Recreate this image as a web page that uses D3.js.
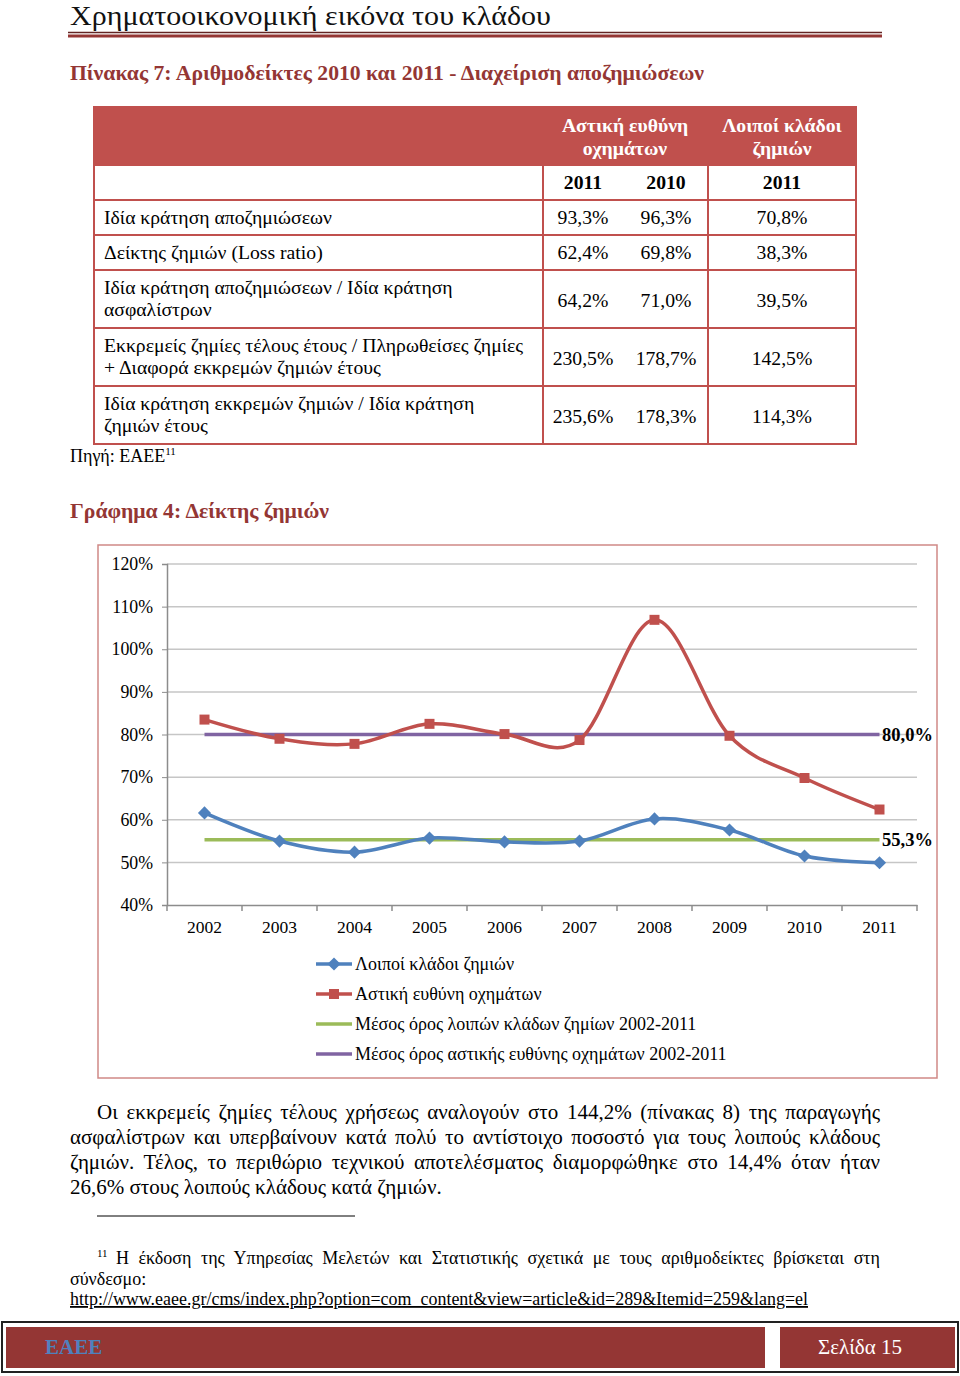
<!DOCTYPE html>
<html><head><meta charset="utf-8">
<script src="https://cdn.jsdelivr.net/npm/d3@7"></script>
<style>
body{margin:0;background:#fff;}
svg{display:block;}
text{font-family:"Liberation Serif","Times New Roman",serif;}
</style></head>
<body>
<svg id="page" width="960" height="1376"></svg>
<script>
// ---------- DATA ----------
const years = ["2002","2003","2004","2005","2006","2007","2008","2009","2010","2011"];
const loipoiValues = [61.6, 55.0, 52.4, 55.7, 54.8, 55.0, 60.2, 57.6, 51.5, 49.9];
const astikiValues = [83.5, 79.0, 77.8, 82.5, 80.1, 78.7, 106.9, 79.7, 69.8, 62.4];
const avgLoipoi = 55.3;
const avgAstiki = 80.0;
const yTicks = [40, 50, 60, 70, 80, 90, 100, 110, 120];
const seriesNames = ["Λοιποί κλάδοι ζημιών", "Αστική ευθύνη οχημάτων",
  "Μέσος όρος λοιπών κλάδων ζημίων 2002-2011", "Μέσος όρος αστικής ευθύνης οχημάτων 2002-2011"];

const tableHeaderGroups = [["Αστική ευθύνη","οχημάτων"],["Λοιποί κλάδοι","ζημιών"]];
const tableYears = ["2011","2010","2011"];
const tableRowLabels = [
  ["Ιδία κράτηση αποζημιώσεων"],
  ["Δείκτης ζημιών (Loss ratio)"],
  ["Ιδία κράτηση αποζημιώσεων / Ιδία κράτηση","ασφαλίστρων"],
  ["Εκκρεμείς ζημίες τέλους έτους / Πληρωθείσες ζημίες","+ Διαφορά εκκρεμών ζημιών έτους"],
  ["Ιδία κράτηση εκκρεμών ζημιών / Ιδία κράτηση","ζημιών έτους"]
];
const tableValues = [
  ["93,3%","96,3%","70,8%"],
  ["62,4%","69,8%","38,3%"],
  ["64,2%","71,0%","39,5%"],
  ["230,5%","178,7%","142,5%"],
  ["235,6%","178,3%","114,3%"]
];
const paragraphLines = [
  "Οι εκκρεμείς ζημίες τέλους χρήσεως αναλογούν στο 144,2% (πίνακας 8) της παραγωγής",
  "ασφαλίστρων και υπερβαίνουν κατά πολύ το αντίστοιχο ποσοστό για τους λοιπούς κλάδους",
  "ζημιών. Τέλος, το περιθώριο τεχνικού αποτελέσματος διαμορφώθηκε στο 14,4% όταν ήταν",
  "26,6% στους λοιπούς κλάδους κατά ζημιών."
];

// ---------- PAGE ----------
const svg = d3.select("#page");
const dark = "#943634", red = "#c0504d", blue = "#4f81bd", green = "#9bbb59", purple = "#8064a2";

// header
svg.append("text").attr("x",70).attr("y",25).attr("font-size",28).attr("fill","#111")
  .attr("textLength",481).attr("lengthAdjust","spacingAndGlyphs")
  .text("Χρηματοοικονομική εικόνα του κλάδου");
svg.append("line").attr("x1",68).attr("x2",882).attr("y1",32.5).attr("y2",32.5).attr("stroke","#632423").attr("stroke-width",1.5);
svg.append("line").attr("x1",68).attr("x2",882).attr("y1",36).attr("y2",36).attr("stroke",dark).attr("stroke-width",3);

svg.append("text").attr("x",70).attr("y",80).attr("font-size",20).attr("font-weight","bold").attr("fill",dark)
  .attr("textLength",634).attr("lengthAdjust","spacingAndGlyphs")
  .text("Πίνακας 7: Αριθμοδείκτες 2010 και 2011 - Διαχείριση αποζημιώσεων");

// ---------- TABLE ----------
const T = {x0:94, x1:856, c1:543, c2:708};
const rowEdges = [107,165,200,235,270,328,386,444];
const colCenters = [583,666,782];
const FS = 19.7;
const tg = svg.append("g");
tg.append("rect").attr("x",T.x0).attr("y",rowEdges[0]).attr("width",T.x1-T.x0).attr("height",rowEdges[1]-rowEdges[0]).attr("fill",red);
tg.append("rect").attr("x",T.x0).attr("y",rowEdges[0]).attr("width",T.x1-T.x0).attr("height",rowEdges[7]-rowEdges[0])
  .attr("fill","none").attr("stroke",red).attr("stroke-width",2);
rowEdges.slice(1,7).forEach(y=>tg.append("line").attr("x1",T.x0).attr("x2",T.x1).attr("y1",y).attr("y2",y).attr("stroke",red).attr("stroke-width",2));
[T.c1,T.c2].forEach(x=>tg.append("line").attr("x1",x).attr("x2",x).attr("y1",rowEdges[0]).attr("y2",rowEdges[7]).attr("stroke",red).attr("stroke-width",2));
[[625,tableHeaderGroups[0]],[782,tableHeaderGroups[1]]].forEach(([cx,lines])=>{
  lines.forEach((l,i)=>tg.append("text").attr("x",cx).attr("y",132+i*23).attr("text-anchor","middle")
    .attr("font-size",FS).attr("font-weight","bold").attr("fill","#fff").text(l));
});
tableYears.forEach((t,i)=>tg.append("text").attr("x",colCenters[i]).attr("y",189).attr("text-anchor","middle")
  .attr("font-size",FS).attr("font-weight","bold").attr("fill","#000").text(t));
tableRowLabels.forEach((lines,r)=>{
  const top = rowEdges[r+2], bot = rowEdges[r+3], mid=(top+bot)/2;
  const n = lines.length;
  lines.forEach((l,i)=>tg.append("text").attr("x",104).attr("y",mid+6+(i-(n-1)/2)*22.5)
    .attr("font-size",FS).attr("fill","#000").text(l));
  tableValues[r].forEach((v,c)=>tg.append("text").attr("x",colCenters[c]).attr("y",mid+6+(n>1?2:0)).attr("text-anchor","middle")
    .attr("font-size",FS).attr("fill","#000").text(v));
});
const src = svg.append("text").attr("x",70).attr("y",462).attr("font-size",18).attr("fill","#000");
src.append("tspan").text("Πηγή: ΕΑΕΕ");
src.append("tspan").attr("font-size",11).attr("dy",-7).text("11");

svg.append("text").attr("x",70).attr("y",518).attr("font-size",20).attr("font-weight","bold").attr("fill",dark)
  .attr("textLength",259).attr("lengthAdjust","spacingAndGlyphs")
  .text("Γράφημα 4: Δείκτης ζημιών");

// ---------- CHART ----------
svg.append("rect").attr("x",98).attr("y",545).attr("width",839).attr("height",533)
  .attr("fill","#fff").attr("stroke","#d08986").attr("stroke-width",1.5);

const x = d3.scaleBand().domain(years).range([167,917]).padding(0);
const y = d3.scaleLinear().domain([40,120]).range([905,564]);
const cx = d=>x(d)+x.bandwidth()/2;
const cg = svg.append("g");

cg.selectAll(".grid").data(yTicks.slice(1)).join("line")
  .attr("x1",167).attr("x2",917).attr("y1",d=>y(d)).attr("y2",d=>y(d))
  .attr("stroke","#c6c6c6").attr("stroke-width",1.5);

const yAxis = d3.axisLeft(y).tickValues(yTicks).tickFormat(d=>d+"%").tickSize(5).tickPadding(9);
const yg = cg.append("g").attr("transform","translate(167,0)").call(yAxis);
yg.select(".domain").attr("stroke","#8c8c8c").attr("stroke-width",1.5);
yg.selectAll(".tick line").attr("stroke","#8c8c8c");
yg.selectAll("text").attr("font-size",17.8).attr("fill","#000").attr("font-family","Liberation Serif");

const xAxis = d3.axisBottom(x).tickSize(0).tickPadding(16);
const xg = cg.append("g").attr("transform","translate(0,905)").call(xAxis);
xg.select(".domain").attr("stroke","#8c8c8c").attr("stroke-width",1.5);
xg.selectAll("text").attr("font-size",17.5).attr("fill","#000").attr("font-family","Liberation Serif");
const bounds = years.map(d=>x(d)).concat([x(years[years.length-1])+x.bandwidth()]);
xg.selectAll(".bnd").data(bounds).join("line").attr("x1",d=>d).attr("x2",d=>d).attr("y1",0).attr("y2",6)
  .attr("stroke","#8c8c8c").attr("stroke-width",1.5);

const avgLine = (v,col)=>cg.append("line").attr("x1",cx(years[0])).attr("x2",cx(years[years.length-1]))
  .attr("y1",y(v)).attr("y2",y(v)).attr("stroke",col).attr("stroke-width",3.5);
avgLine(avgLoipoi, green);
avgLine(avgAstiki, purple);

const line = d3.line().x((d,i)=>cx(years[i])).y(d=>y(d)).curve(d3.curveCatmullRom.alpha(0));
cg.append("path").datum(astikiValues).attr("d",line).attr("fill","none").attr("stroke",red).attr("stroke-width",3.5);
cg.append("path").datum(loipoiValues).attr("d",line).attr("fill","none").attr("stroke",blue).attr("stroke-width",3.5);

const sq = d3.symbol().type(d3.symbolSquare).size(100);
const di = d3.symbol().type(d3.symbolDiamond2).size(110);
cg.selectAll(".ms").data(astikiValues).join("path").attr("d",sq)
  .attr("transform",(d,i)=>`translate(${cx(years[i])},${y(d)})`).attr("fill",red);
cg.selectAll(".md").data(loipoiValues).join("path").attr("d",di)
  .attr("transform",(d,i)=>`translate(${cx(years[i])},${y(d)})`).attr("fill",blue);

const fmt = v=>v.toFixed(1).replace(".",",")+"%";
[avgAstiki, avgLoipoi].forEach(v=>cg.append("text").attr("x",882).attr("y",y(v)+6)
  .attr("font-size",18.5).attr("font-weight","bold").attr("fill","#000").text(fmt(v)));

const legCols = [blue, red, green, purple];
const legMark = [di, sq, null, null];
seriesNames.forEach((n,i)=>{
  const ly = 964 + i*30;
  const g = cg.append("g");
  g.append("line").attr("x1",316).attr("x2",352).attr("y1",ly).attr("y2",ly).attr("stroke",legCols[i]).attr("stroke-width",3.5);
  if(legMark[i]) g.append("path").attr("d",legMark[i]).attr("transform",`translate(334,${ly})`).attr("fill",legCols[i]);
  g.append("text").attr("x",355).attr("y",ly+6).attr("font-size",18).attr("fill","#000").text(n);
});

// ---------- PARAGRAPH ----------
function justified(str, x0, x1, yb, size, justify){
  const t = svg.append("text").attr("x",x0).attr("y",yb).attr("font-size",size).attr("fill","#000").text(str);
  if(justify){
    const w = t.node().getComputedTextLength();
    const spaces = (str.match(/ /g)||[]).length;
    if(spaces>0) t.attr("word-spacing",Math.max(0,(x1-x0-w)/spaces));
    const w2 = t.node().getComputedTextLength();
    if(w2 > x1-x0+1) t.attr("textLength",x1-x0).attr("lengthAdjust","spacingAndGlyphs");
  }
  return t;
}
paragraphLines.forEach((l,i)=>justified(l, i===0?97:70, 880, 1119+i*25, 21, i<3));

// footnote
svg.append("line").attr("x1",97).attr("x2",355).attr("y1",1216).attr("y2",1216).attr("stroke","#000").attr("stroke-width",1);
svg.append("text").attr("x",97).attr("y",1257).attr("font-size",11).attr("fill","#000").text("11");
justified("Η έκδοση της Υπηρεσίας Μελετών και Στατιστικής σχετικά με τους αριθμοδείκτες βρίσκεται στη",116,880,1264,18,true);
svg.append("text").attr("x",70).attr("y",1285).attr("font-size",18).attr("fill","#000").text("σύνδεσμο:");
svg.append("text").attr("x",70).attr("y",1305).attr("font-size",18).attr("fill","#000")
  .attr("text-decoration","underline").attr("textLength",738).attr("lengthAdjust","spacingAndGlyphs")
  .text("http://www.eaee.gr/cms/index.php?option=com_content&view=article&id=289&Itemid=259&lang=el");

// ---------- FOOTER ----------
svg.append("rect").attr("x",2).attr("y",1322).attr("width",956).attr("height",50).attr("fill","none").attr("stroke","#222").attr("stroke-width",2);
svg.append("rect").attr("x",6).attr("y",1327).attr("width",759).attr("height",41).attr("fill",dark);
svg.append("rect").attr("x",780).attr("y",1327).attr("width",175).attr("height",41).attr("fill",dark);
svg.append("text").attr("x",45).attr("y",1354).attr("font-size",21).attr("font-weight","bold").attr("fill",blue).text("ΕΑΕΕ");
svg.append("text").attr("x",818).attr("y",1354).attr("font-size",21).attr("fill","#fff").text("Σελίδα 15");
</script>
</body></html>
